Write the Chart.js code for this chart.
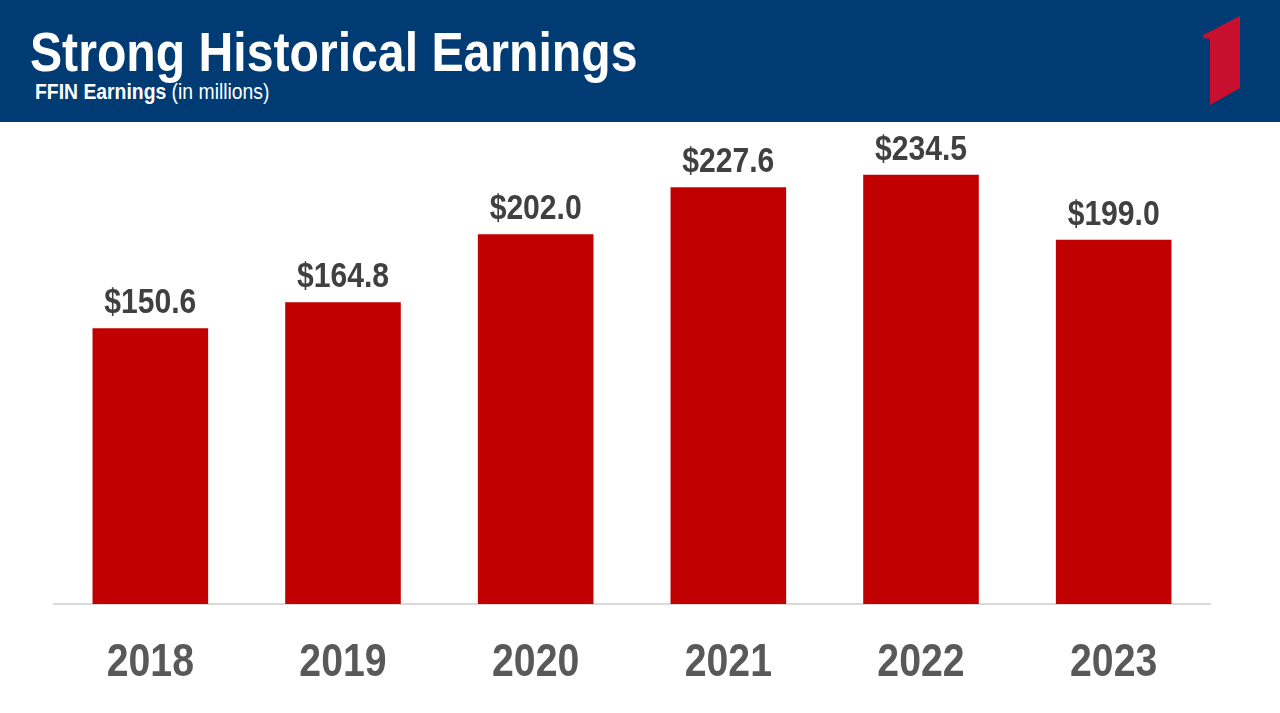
<!DOCTYPE html>
<html>
<head>
<meta charset="utf-8">
<script src="https://cdn.jsdelivr.net/npm/chart.js@4.4.1/dist/chart.umd.min.js"></script>
<style>
  html, body { margin:0; padding:0; background:#fff; width:1280px; height:713px; overflow:hidden; }
  #header { position:absolute; left:0; top:0; width:1280px; height:122px; background:#003B73; }
  #title { position:absolute; left:30px; top:20px; color:#fff; font-family:"Liberation Sans",Arial,sans-serif; font-weight:bold; font-size:56px; line-height:64px; white-space:nowrap; transform:scaleX(0.86); transform-origin:0 0; }
  #subtitle { position:absolute; left:35px; top:81px; color:#fff; font-family:"Liberation Sans",Arial,sans-serif; font-size:22px; line-height:22px; white-space:nowrap; transform:scaleX(0.88); transform-origin:0 0; }
  #logo { position:absolute; left:1195px; top:10px; }
  #wrap { position:absolute; left:0; top:122px; width:1280px; height:591px; }
</style>
</head>
<body>
<div id="header">
  <div id="title">Strong Historical Earnings</div>
  <div id="subtitle"><b>FFIN Earnings</b> (in millions)</div>
  <svg id="logo" width="60" height="105" viewBox="0 0 60 105">
    <polygon points="8,25 45,6 45,78 15,95 15,29 8,28" fill="#C8102E"/>
  </svg>
</div>
<div id="wrap"><canvas id="c"></canvas></div>
<script>
const years = ["2018", "2019", "2020", "2021", "2022", "2023"];
const earnings = [150.6, 164.8, 202.0, 227.6, 234.5, 199.0];
const valueLabels = ["$150.6", "$164.8", "$202.0", "$227.6", "$234.5", "$199.0"];

function narrowText(ctx, text, x, y, sx) {
  ctx.save();
  ctx.translate(x, y);
  ctx.scale(sx, 1);
  ctx.fillText(text, 0, 0);
  ctx.restore();
}

const labelPlugin = {
  id: 'valueLabels',
  afterDatasetsDraw(chart) {
    const ctx = chart.ctx;
    const meta = chart.getDatasetMeta(0);
    const xs = chart.scales.x;
    ctx.save();
    ctx.textAlign = 'center';
    ctx.textBaseline = 'alphabetic';
    ctx.font = 'bold 35px "Liberation Sans", Arial, sans-serif';
    ctx.fillStyle = '#404040';
    meta.data.forEach((bar, i) => {
      narrowText(ctx, valueLabels[i], bar.x, bar.y - 15, 0.86);
    });
    ctx.font = 'bold 47px "Liberation Sans", Arial, sans-serif';
    ctx.fillStyle = '#595959';
    years.forEach((yr, i) => {
      narrowText(ctx, yr, xs.getPixelForValue(i), chart.chartArea.bottom + 72, 0.835);
    });
    ctx.restore();
  }
};

new Chart(document.getElementById('c'), {
  type: 'bar',
  data: {
    labels: years,
    datasets: [{
      data: earnings,
      backgroundColor: '#C00000',
      borderWidth: 0,
      barPercentage: 0.6,
      categoryPercentage: 1.0
    }]
  },
  options: {
    responsive: true,
    maintainAspectRatio: false,
    animation: false,
    layout: { padding: { left: 54, right: 70, top: 6, bottom: 109 } },
    plugins: { legend: { display: false }, tooltip: { enabled: false } },
    scales: {
      x: {
        grid: { display: false, drawTicks: false },
        border: { display: true, color: '#D9D9D9', width: 2 },
        ticks: { display: false }
      },
      y: {
        display: false,
        min: 0,
        max: 260
      }
    }
  },
  plugins: [labelPlugin]
});
</script>
</body>
</html>
